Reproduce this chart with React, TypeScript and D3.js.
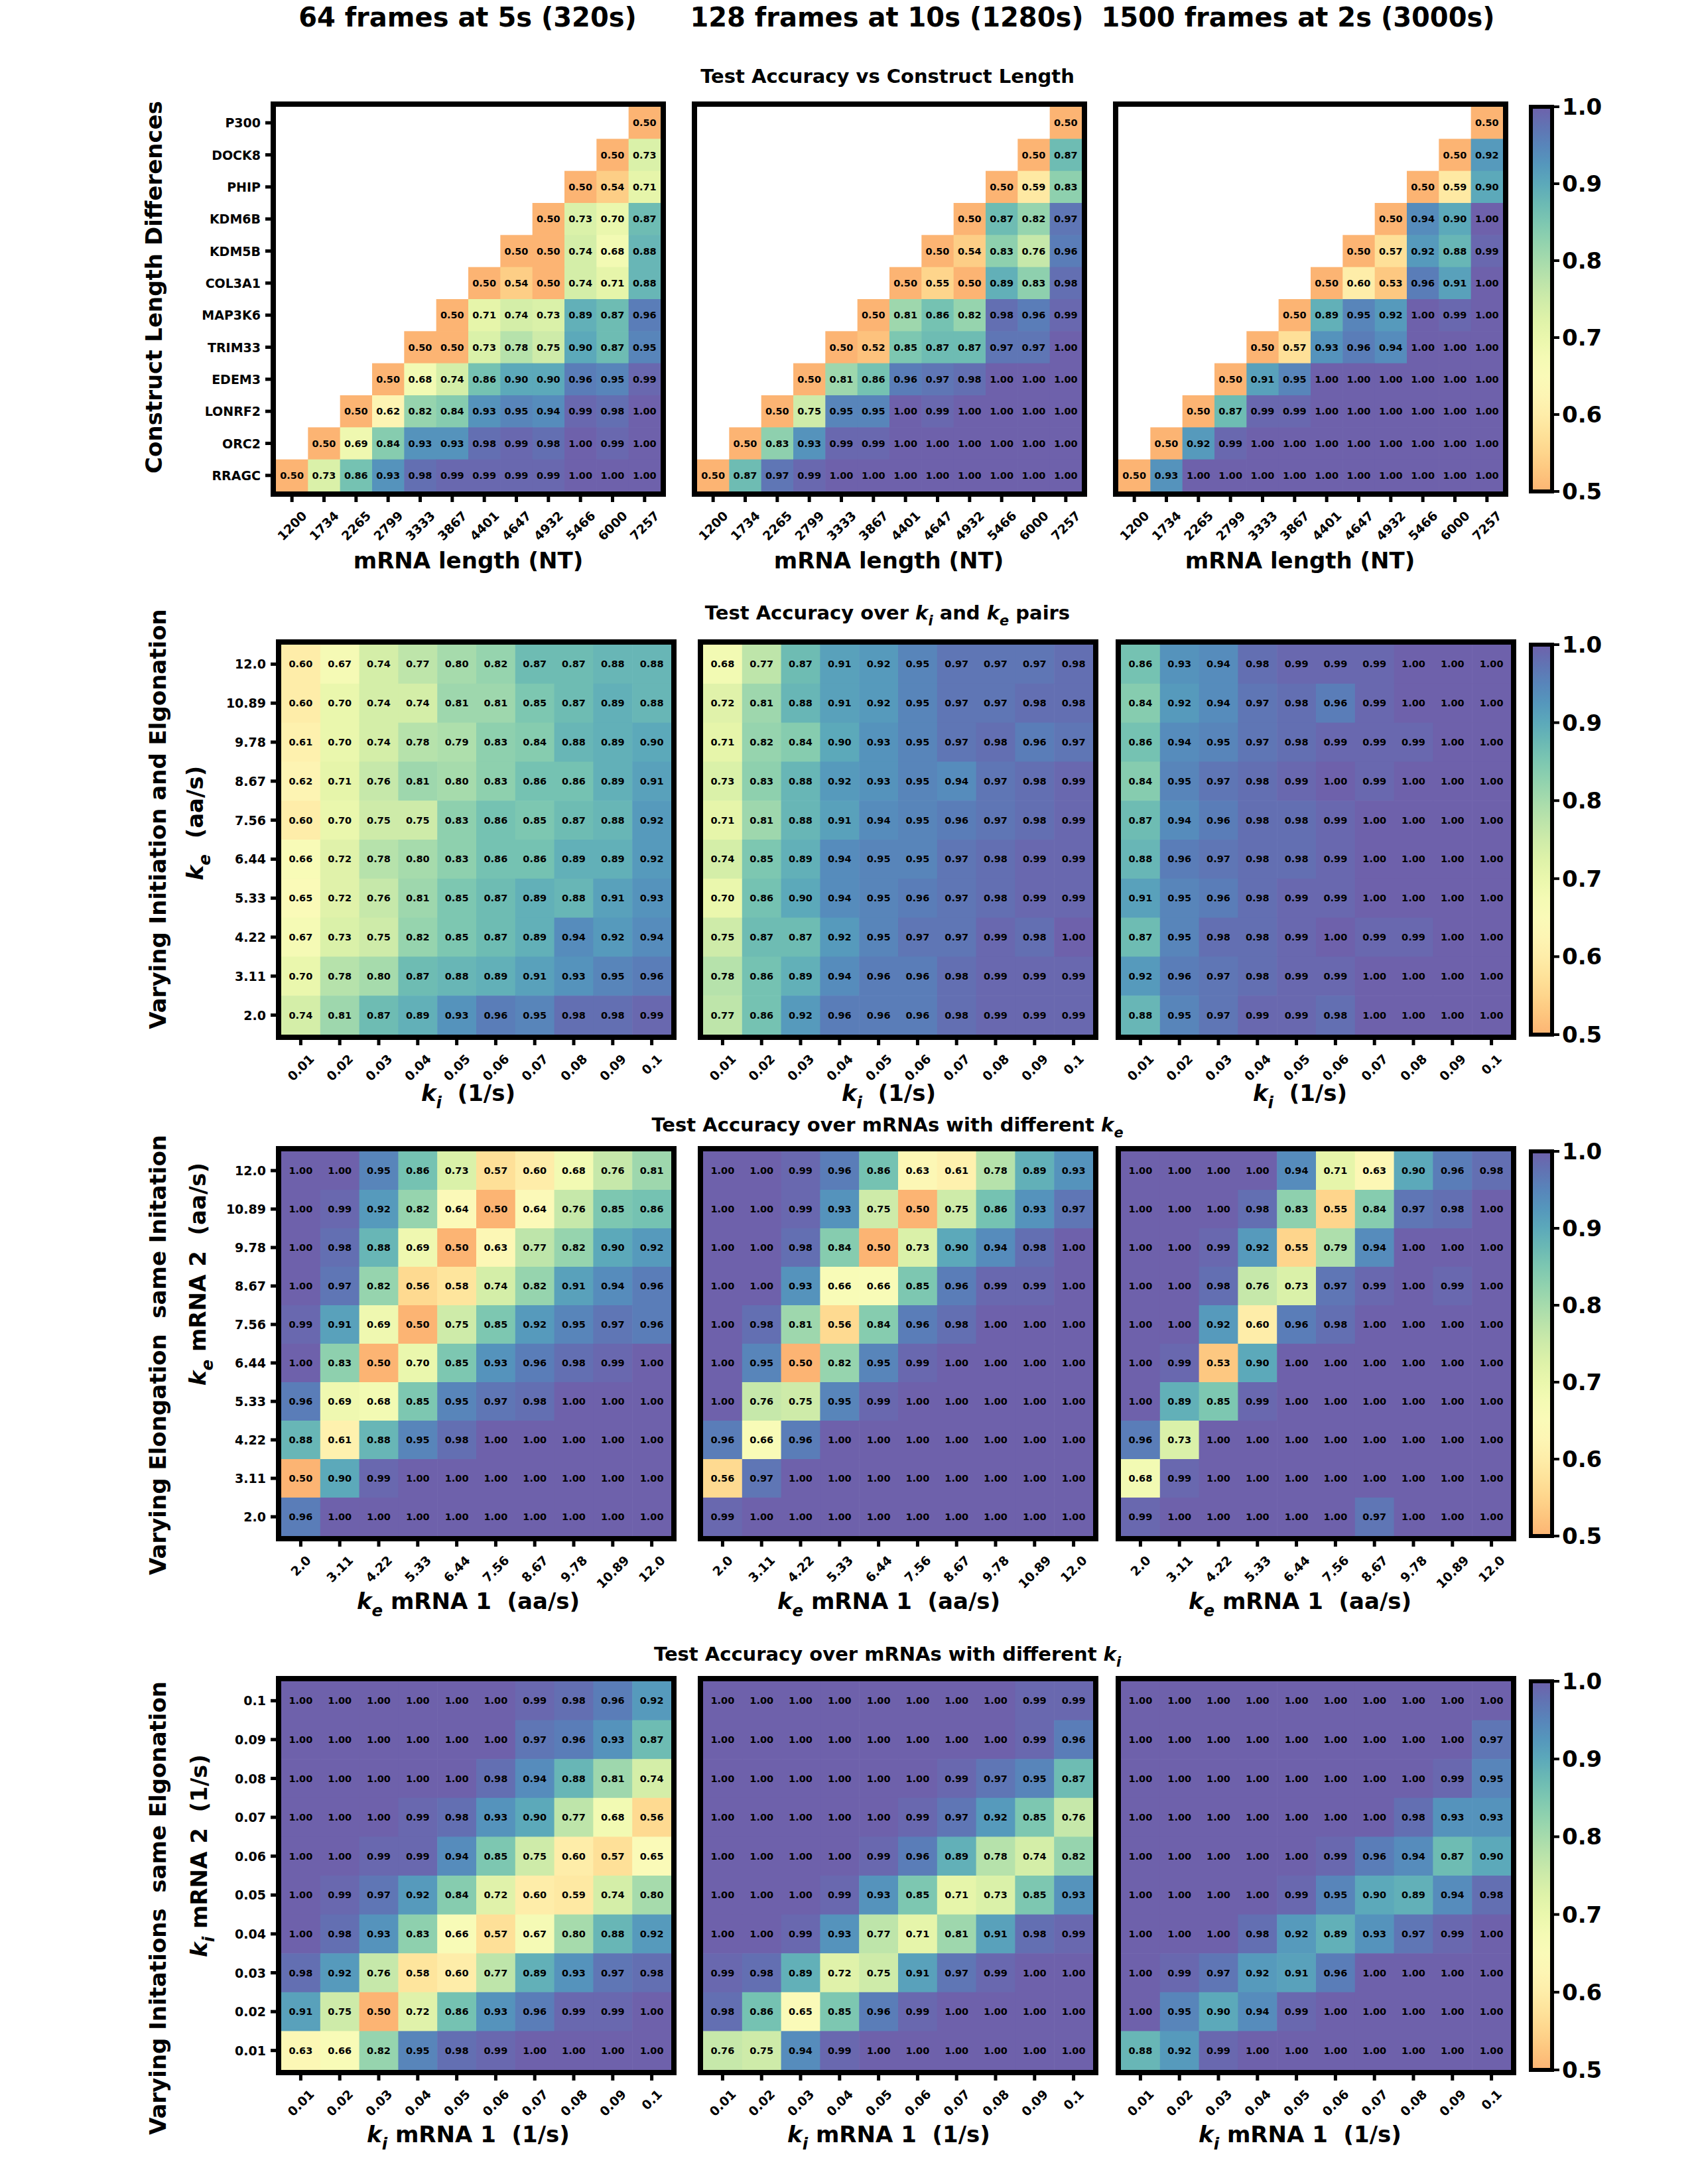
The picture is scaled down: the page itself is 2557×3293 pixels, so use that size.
import React from "react";
import * as d3 from "d3";

// ---------------- DATA ----------------
const FRAME_HEADERS = ["64 frames at 5s (320s)", "128 frames at 10s (1280s)", "1500 frames at 2s (3000s)"];

const GENES = ["P300", "DOCK8", "PHIP", "KDM6B", "KDM5B", "COL3A1", "MAP3K6", "TRIM33", "EDEM3", "LONRF2", "ORC2", "RRAGC"];
const LENGTHS = ["1200", "1734", "2265", "2799", "3333", "3867", "4401", "4647", "4932", "5466", "6000", "7257"];

const KE_Y = ["12.0", "10.89", "9.78", "8.67", "7.56", "6.44", "5.33", "4.22", "3.11", "2.0"];
const KE_X = ["2.0", "3.11", "4.22", "5.33", "6.44", "7.56", "8.67", "9.78", "10.89", "12.0"];
const KI_X = ["0.01", "0.02", "0.03", "0.04", "0.05", "0.06", "0.07", "0.08", "0.09", "0.1"];
const KI_Y = ["0.1", "0.09", "0.08", "0.07", "0.06", "0.05", "0.04", "0.03", "0.02", "0.01"];

const CBAR_TICKS = [0.5, 0.6, 0.7, 0.8, 0.9, 1.0];

// Row 1: triangles, each row listed from the diagonal to the right edge (top row = P300)
const len64 = [
  [0.50],
  [0.50, 0.73],
  [0.50, 0.54, 0.71],
  [0.50, 0.73, 0.70, 0.87],
  [0.50, 0.50, 0.74, 0.68, 0.88],
  [0.50, 0.54, 0.50, 0.74, 0.71, 0.88],
  [0.50, 0.71, 0.74, 0.73, 0.89, 0.87, 0.96],
  [0.50, 0.50, 0.73, 0.78, 0.75, 0.90, 0.87, 0.95],
  [0.50, 0.68, 0.74, 0.86, 0.90, 0.90, 0.96, 0.95, 0.99],
  [0.50, 0.62, 0.82, 0.84, 0.93, 0.95, 0.94, 0.99, 0.98, 1.00],
  [0.50, 0.69, 0.84, 0.93, 0.93, 0.98, 0.99, 0.98, 1.00, 0.99, 1.00],
  [0.50, 0.73, 0.86, 0.93, 0.98, 0.99, 0.99, 0.99, 0.99, 1.00, 1.00, 1.00],
];
const len128 = [
  [0.50],
  [0.50, 0.87],
  [0.50, 0.59, 0.83],
  [0.50, 0.87, 0.82, 0.97],
  [0.50, 0.54, 0.83, 0.76, 0.96],
  [0.50, 0.55, 0.50, 0.89, 0.83, 0.98],
  [0.50, 0.81, 0.86, 0.82, 0.98, 0.96, 0.99],
  [0.50, 0.52, 0.85, 0.87, 0.87, 0.97, 0.97, 1.00],
  [0.50, 0.81, 0.86, 0.96, 0.97, 0.98, 1.00, 1.00, 1.00],
  [0.50, 0.75, 0.95, 0.95, 1.00, 0.99, 1.00, 1.00, 1.00, 1.00],
  [0.50, 0.83, 0.93, 0.99, 0.99, 1.00, 1.00, 1.00, 1.00, 1.00, 1.00],
  [0.50, 0.87, 0.97, 0.99, 1.00, 1.00, 1.00, 1.00, 1.00, 1.00, 1.00, 1.00],
];
const len1500 = [
  [0.50],
  [0.50, 0.92],
  [0.50, 0.59, 0.90],
  [0.50, 0.94, 0.90, 1.00],
  [0.50, 0.57, 0.92, 0.88, 0.99],
  [0.50, 0.60, 0.53, 0.96, 0.91, 1.00],
  [0.50, 0.89, 0.95, 0.92, 1.00, 0.99, 1.00],
  [0.50, 0.57, 0.93, 0.96, 0.94, 1.00, 1.00, 1.00],
  [0.50, 0.91, 0.95, 1.00, 1.00, 1.00, 1.00, 1.00, 1.00],
  [0.50, 0.87, 0.99, 0.99, 1.00, 1.00, 1.00, 1.00, 1.00, 1.00],
  [0.50, 0.92, 0.99, 1.00, 1.00, 1.00, 1.00, 1.00, 1.00, 1.00, 1.00],
  [0.50, 0.93, 1.00, 1.00, 1.00, 1.00, 1.00, 1.00, 1.00, 1.00, 1.00, 1.00],
];

// Row 2: ki (columns) x ke (rows, top = 12.0)
const kike64 = [
  [0.60, 0.67, 0.74, 0.77, 0.80, 0.82, 0.87, 0.87, 0.88, 0.88],
  [0.60, 0.70, 0.74, 0.74, 0.81, 0.81, 0.85, 0.87, 0.89, 0.88],
  [0.61, 0.70, 0.74, 0.78, 0.79, 0.83, 0.84, 0.88, 0.89, 0.90],
  [0.62, 0.71, 0.76, 0.81, 0.80, 0.83, 0.86, 0.86, 0.89, 0.91],
  [0.60, 0.70, 0.75, 0.75, 0.83, 0.86, 0.85, 0.87, 0.88, 0.92],
  [0.66, 0.72, 0.78, 0.80, 0.83, 0.86, 0.86, 0.89, 0.89, 0.92],
  [0.65, 0.72, 0.76, 0.81, 0.85, 0.87, 0.89, 0.88, 0.91, 0.93],
  [0.67, 0.73, 0.75, 0.82, 0.85, 0.87, 0.89, 0.94, 0.92, 0.94],
  [0.70, 0.78, 0.80, 0.87, 0.88, 0.89, 0.91, 0.93, 0.95, 0.96],
  [0.74, 0.81, 0.87, 0.89, 0.93, 0.96, 0.95, 0.98, 0.98, 0.99],
];
const kike128 = [
  [0.68, 0.77, 0.87, 0.91, 0.92, 0.95, 0.97, 0.97, 0.97, 0.98],
  [0.72, 0.81, 0.88, 0.91, 0.92, 0.95, 0.97, 0.97, 0.98, 0.98],
  [0.71, 0.82, 0.84, 0.90, 0.93, 0.95, 0.97, 0.98, 0.96, 0.97],
  [0.73, 0.83, 0.88, 0.92, 0.93, 0.95, 0.94, 0.97, 0.98, 0.99],
  [0.71, 0.81, 0.88, 0.91, 0.94, 0.95, 0.96, 0.97, 0.98, 0.99],
  [0.74, 0.85, 0.89, 0.94, 0.95, 0.95, 0.97, 0.98, 0.99, 0.99],
  [0.70, 0.86, 0.90, 0.94, 0.95, 0.96, 0.97, 0.98, 0.99, 0.99],
  [0.75, 0.87, 0.87, 0.92, 0.95, 0.97, 0.97, 0.99, 0.98, 1.00],
  [0.78, 0.86, 0.89, 0.94, 0.96, 0.96, 0.98, 0.99, 0.99, 0.99],
  [0.77, 0.86, 0.92, 0.96, 0.96, 0.96, 0.98, 0.99, 0.99, 0.99],
];
const kike1500 = [
  [0.86, 0.93, 0.94, 0.98, 0.99, 0.99, 0.99, 1.00, 1.00, 1.00],
  [0.84, 0.92, 0.94, 0.97, 0.98, 0.96, 0.99, 1.00, 1.00, 1.00],
  [0.86, 0.94, 0.95, 0.97, 0.98, 0.99, 0.99, 0.99, 1.00, 1.00],
  [0.84, 0.95, 0.97, 0.98, 0.99, 1.00, 0.99, 1.00, 1.00, 1.00],
  [0.87, 0.94, 0.96, 0.98, 0.98, 0.99, 1.00, 1.00, 1.00, 1.00],
  [0.88, 0.96, 0.97, 0.98, 0.98, 0.99, 1.00, 1.00, 1.00, 1.00],
  [0.91, 0.95, 0.96, 0.98, 0.99, 0.99, 1.00, 1.00, 1.00, 1.00],
  [0.87, 0.95, 0.98, 0.98, 0.99, 1.00, 0.99, 0.99, 1.00, 1.00],
  [0.92, 0.96, 0.97, 0.98, 0.99, 0.99, 1.00, 1.00, 1.00, 1.00],
  [0.88, 0.95, 0.97, 0.99, 0.99, 0.98, 1.00, 1.00, 1.00, 1.00],
];

// Row 3: ke mRNA 1 (columns) x ke mRNA 2 (rows, top = 12.0)
const keke64 = [
  [1.00, 1.00, 0.95, 0.86, 0.73, 0.57, 0.60, 0.68, 0.76, 0.81],
  [1.00, 0.99, 0.92, 0.82, 0.64, 0.50, 0.64, 0.76, 0.85, 0.86],
  [1.00, 0.98, 0.88, 0.69, 0.50, 0.63, 0.77, 0.82, 0.90, 0.92],
  [1.00, 0.97, 0.82, 0.56, 0.58, 0.74, 0.82, 0.91, 0.94, 0.96],
  [0.99, 0.91, 0.69, 0.50, 0.75, 0.85, 0.92, 0.95, 0.97, 0.96],
  [1.00, 0.83, 0.50, 0.70, 0.85, 0.93, 0.96, 0.98, 0.99, 1.00],
  [0.96, 0.69, 0.68, 0.85, 0.95, 0.97, 0.98, 1.00, 1.00, 1.00],
  [0.88, 0.61, 0.88, 0.95, 0.98, 1.00, 1.00, 1.00, 1.00, 1.00],
  [0.50, 0.90, 0.99, 1.00, 1.00, 1.00, 1.00, 1.00, 1.00, 1.00],
  [0.96, 1.00, 1.00, 1.00, 1.00, 1.00, 1.00, 1.00, 1.00, 1.00],
];
const keke128 = [
  [1.00, 1.00, 0.99, 0.96, 0.86, 0.63, 0.61, 0.78, 0.89, 0.93],
  [1.00, 1.00, 0.99, 0.93, 0.75, 0.50, 0.75, 0.86, 0.93, 0.97],
  [1.00, 1.00, 0.98, 0.84, 0.50, 0.73, 0.90, 0.94, 0.98, 1.00],
  [1.00, 1.00, 0.93, 0.66, 0.66, 0.85, 0.96, 0.99, 0.99, 1.00],
  [1.00, 0.98, 0.81, 0.56, 0.84, 0.96, 0.98, 1.00, 1.00, 1.00],
  [1.00, 0.95, 0.50, 0.82, 0.95, 0.99, 1.00, 1.00, 1.00, 1.00],
  [1.00, 0.76, 0.75, 0.95, 0.99, 1.00, 1.00, 1.00, 1.00, 1.00],
  [0.96, 0.66, 0.96, 1.00, 1.00, 1.00, 1.00, 1.00, 1.00, 1.00],
  [0.56, 0.97, 1.00, 1.00, 1.00, 1.00, 1.00, 1.00, 1.00, 1.00],
  [0.99, 1.00, 1.00, 1.00, 1.00, 1.00, 1.00, 1.00, 1.00, 1.00],
];
const keke1500 = [
  [1.00, 1.00, 1.00, 1.00, 0.94, 0.71, 0.63, 0.90, 0.96, 0.98],
  [1.00, 1.00, 1.00, 0.98, 0.83, 0.55, 0.84, 0.97, 0.98, 1.00],
  [1.00, 1.00, 0.99, 0.92, 0.55, 0.79, 0.94, 1.00, 1.00, 1.00],
  [1.00, 1.00, 0.98, 0.76, 0.73, 0.97, 0.99, 1.00, 0.99, 1.00],
  [1.00, 1.00, 0.92, 0.60, 0.96, 0.98, 1.00, 1.00, 1.00, 1.00],
  [1.00, 0.99, 0.53, 0.90, 1.00, 1.00, 1.00, 1.00, 1.00, 1.00],
  [1.00, 0.89, 0.85, 0.99, 1.00, 1.00, 1.00, 1.00, 1.00, 1.00],
  [0.96, 0.73, 1.00, 1.00, 1.00, 1.00, 1.00, 1.00, 1.00, 1.00],
  [0.68, 0.99, 1.00, 1.00, 1.00, 1.00, 1.00, 1.00, 1.00, 1.00],
  [0.99, 1.00, 1.00, 1.00, 1.00, 1.00, 0.97, 1.00, 1.00, 1.00],
];

// Row 4: ki mRNA 1 (columns) x ki mRNA 2 (rows, top = 0.1)
const kiki64 = [
  [1.00, 1.00, 1.00, 1.00, 1.00, 1.00, 0.99, 0.98, 0.96, 0.92],
  [1.00, 1.00, 1.00, 1.00, 1.00, 1.00, 0.97, 0.96, 0.93, 0.87],
  [1.00, 1.00, 1.00, 1.00, 1.00, 0.98, 0.94, 0.88, 0.81, 0.74],
  [1.00, 1.00, 1.00, 0.99, 0.98, 0.93, 0.90, 0.77, 0.68, 0.56],
  [1.00, 1.00, 0.99, 0.99, 0.94, 0.85, 0.75, 0.60, 0.57, 0.65],
  [1.00, 0.99, 0.97, 0.92, 0.84, 0.72, 0.60, 0.59, 0.74, 0.80],
  [1.00, 0.98, 0.93, 0.83, 0.66, 0.57, 0.67, 0.80, 0.88, 0.92],
  [0.98, 0.92, 0.76, 0.58, 0.60, 0.77, 0.89, 0.93, 0.97, 0.98],
  [0.91, 0.75, 0.50, 0.72, 0.86, 0.93, 0.96, 0.99, 0.99, 1.00],
  [0.63, 0.66, 0.82, 0.95, 0.98, 0.99, 1.00, 1.00, 1.00, 1.00],
];
const kiki128 = [
  [1.00, 1.00, 1.00, 1.00, 1.00, 1.00, 1.00, 1.00, 0.99, 0.99],
  [1.00, 1.00, 1.00, 1.00, 1.00, 1.00, 1.00, 1.00, 0.99, 0.96],
  [1.00, 1.00, 1.00, 1.00, 1.00, 1.00, 0.99, 0.97, 0.95, 0.87],
  [1.00, 1.00, 1.00, 1.00, 1.00, 0.99, 0.97, 0.92, 0.85, 0.76],
  [1.00, 1.00, 1.00, 1.00, 0.99, 0.96, 0.89, 0.78, 0.74, 0.82],
  [1.00, 1.00, 1.00, 0.99, 0.93, 0.85, 0.71, 0.73, 0.85, 0.93],
  [1.00, 1.00, 0.99, 0.93, 0.77, 0.71, 0.81, 0.91, 0.98, 0.99],
  [0.99, 0.98, 0.89, 0.72, 0.75, 0.91, 0.97, 0.99, 1.00, 1.00],
  [0.98, 0.86, 0.65, 0.85, 0.96, 0.99, 1.00, 1.00, 1.00, 1.00],
  [0.76, 0.75, 0.94, 0.99, 1.00, 1.00, 1.00, 1.00, 1.00, 1.00],
];
const kiki1500 = [
  [1.00, 1.00, 1.00, 1.00, 1.00, 1.00, 1.00, 1.00, 1.00, 1.00],
  [1.00, 1.00, 1.00, 1.00, 1.00, 1.00, 1.00, 1.00, 1.00, 0.97],
  [1.00, 1.00, 1.00, 1.00, 1.00, 1.00, 1.00, 1.00, 0.99, 0.95],
  [1.00, 1.00, 1.00, 1.00, 1.00, 1.00, 1.00, 0.98, 0.93, 0.93],
  [1.00, 1.00, 1.00, 1.00, 1.00, 0.99, 0.96, 0.94, 0.87, 0.90],
  [1.00, 1.00, 1.00, 1.00, 0.99, 0.95, 0.90, 0.89, 0.94, 0.98],
  [1.00, 1.00, 1.00, 0.98, 0.92, 0.89, 0.93, 0.97, 0.99, 1.00],
  [1.00, 0.99, 0.97, 0.92, 0.91, 0.96, 1.00, 1.00, 1.00, 1.00],
  [1.00, 0.95, 0.90, 0.94, 0.99, 1.00, 1.00, 1.00, 1.00, 1.00],
  [0.88, 0.92, 0.99, 1.00, 1.00, 1.00, 1.00, 1.00, 1.00, 1.00],
];

// ---------------- STYLE / LAYOUT ----------------
const FONT = "'DejaVu Sans', Verdana, sans-serif";
const W = 2557;
const H = 3293;
const FRAME = 8;

const colorT = d3.scaleLinear().domain([0.5, 1]).range([0.3, 1]).clamp(true);
const cellColor = (v: number) => d3.interpolateRgb(d3.interpolateSpectral(colorT(v)), "#ffffff")(0.1);

type Seg = { t: string; it?: boolean; sub?: boolean };
const txt = (s: string): Seg[] => [{ t: s }];

function Rich({ segs }: { segs: Seg[] }) {
  return (
    <>
      {segs.map((s, i) =>
        s.sub ? (
          <tspan key={i} fontStyle="italic" fontSize="72%" baselineShift="sub">{s.t}</tspan>
        ) : (
          <tspan key={i} fontStyle={s.it ? "italic" : "normal"}>{s.t}</tspan>
        )
      )}
    </>
  );
}

const charW = (s: string, fs: number) =>
  s.split("").reduce((a, c) => a + (c === "." ? 0.38 : 0.696), 0) * fs;

type PanelProps = {
  x: number;
  y: number;
  w: number;
  h: number;
  rows: number[][];
  nCols: number;
  xLabels: string[];
  yLabels: string[] | null;
};

function Panel({ x, y, w, h, rows, nCols, xLabels, yLabels }: PanelProps) {
  const nRows = rows.length;
  const xs = d3.scaleBand<number>().domain(d3.range(nCols)).range([x, x + w]);
  const ys = d3.scaleBand<number>().domain(d3.range(nRows)).range([y, y + h]);
  const bw = xs.bandwidth();
  const bh = ys.bandwidth();
  const tickFs = 19;
  const capH = tickFs * 0.73;
  const bottom = y + h + FRAME;
  return (
    <g>
      {rows.map((row, r) => {
        const off = nCols - row.length;
        return row.map((v, i) => {
          const c = i + off;
          return (
            <g key={`${r}-${c}`}>
              <rect x={xs(c)} y={ys(r)} width={bw + 0.6} height={bh + 0.6} fill={cellColor(v)} />
              <text
                x={(xs(c) as number) + bw / 2}
                y={(ys(r) as number) + bh / 2}
                textAnchor="middle"
                dominantBaseline="central"
                fontSize={14.5}
                fontWeight="bold"
                fill="#000"
              >
                {v.toFixed(2)}
              </text>
            </g>
          );
        });
      })}
      <rect
        x={x - FRAME / 2}
        y={y - FRAME / 2}
        width={w + FRAME}
        height={h + FRAME}
        fill="none"
        stroke="#000"
        strokeWidth={FRAME}
      />
      {yLabels &&
        yLabels.map((lab, r) => {
          const cy = (ys(r) as number) + bh / 2;
          return (
            <g key={`yl${r}`}>
              <line x1={x - FRAME} x2={x - FRAME - 8} y1={cy} y2={cy} stroke="#000" strokeWidth={5} />
              <text
                x={x - FRAME - 15}
                y={cy}
                textAnchor="end"
                dominantBaseline="central"
                fontSize={tickFs}
                fontWeight="bold"
              >
                {lab}
              </text>
            </g>
          );
        })}
      {xLabels.map((lab, c) => {
        const cx = (xs(c) as number) + bw / 2;
        const lw = charW(lab, tickFs);
        const px = cx + 0.354 * (lw + capH);
        const py = bottom + 20 + 0.707 * capH;
        return (
          <g key={`xl${c}`}>
            <line x1={cx} x2={cx} y1={bottom} y2={bottom + 8} stroke="#000" strokeWidth={5} />
            <text
              x={px}
              y={py}
              textAnchor="end"
              fontSize={tickFs}
              fontWeight="bold"
              transform={`rotate(-45, ${px}, ${py})`}
            >
              {lab}
            </text>
          </g>
        );
      })}
    </g>
  );
}

function Colorbar({ y, h, id }: { y: number; h: number; id: string }) {
  const x = 2308;
  const w = 32;
  const sc = d3.scaleLinear().domain([0.5, 1]).range([y + h, y]);
  const stops = d3.range(0, 1.0001, 0.05);
  return (
    <g>
      <defs>
        <linearGradient id={id} x1="0" y1="1" x2="0" y2="0">
          {stops.map((s) => (
            <stop key={s} offset={`${s * 100}%`} stopColor={cellColor(0.5 + s * 0.5)} />
          ))}
        </linearGradient>
      </defs>
      <rect x={x} y={y} width={w} height={h} fill={`url(#${id})`} />
      <rect x={x} y={y} width={w} height={h} fill="none" stroke="#000" strokeWidth={6} />
      {CBAR_TICKS.map((t) => (
        <g key={t}>
          <line x1={x + w + 3} x2={x + w + 11} y1={sc(t)} y2={sc(t)} stroke="#000" strokeWidth={4} />
          <text x={x + w + 15} y={sc(t)} dominantBaseline="central" fontSize={34} fontWeight="bold">
            {t.toFixed(1)}
          </text>
        </g>
      ))}
    </g>
  );
}

const ROW1_X = [416, 1051, 1686];
const ROW_X = [424, 1060, 1690];
const PANEL_W = [580, 588, 588, 588];
const ROW_Y = [161, 972, 1736, 2535];
const ROW_H = [580, 588, 580, 586];
const PANEL_CX = [706, 1340, 1960];

const ROW_TITLES: Seg[][] = [
  txt("Test Accuracy vs Construct Length"),
  [{ t: "Test Accuracy over " }, { t: "k", it: true }, { t: "i", sub: true }, { t: " and " }, { t: "k", it: true }, { t: "e", sub: true }, { t: " pairs" }],
  [{ t: "Test Accuracy over mRNAs with different " }, { t: "k", it: true }, { t: "e", sub: true }],
  [{ t: "Test Accuracy over mRNAs with different " }, { t: "k", it: true }, { t: "i", sub: true }],
];
const ROW_TITLE_Y = [115, 924, 1696, 2494];

const X_TITLES: Seg[][] = [
  txt("mRNA length (NT)"),
  [{ t: "k", it: true }, { t: "i", sub: true }, { t: "  (1/s)" }],
  [{ t: "k", it: true }, { t: "e", sub: true }, { t: " mRNA 1  (aa/s)" }],
  [{ t: "k", it: true }, { t: "i", sub: true }, { t: " mRNA 1  (1/s)" }],
];
const X_TITLE_Y = [845, 1648, 2414, 3218];

const Y_TITLES: { segs: Seg[]; x: number; y: number }[] = [
  { segs: txt("Construct Length Differences"), x: 232, y: 433 },
  { segs: txt("Varying Initiation and Elgonation"), x: 238, y: 1235 },
  { segs: [{ t: "k", it: true }, { t: "e", sub: true }, { t: "  (aa/s)" }], x: 294, y: 1241 },
  { segs: txt("Varying Elongation  same Initation"), x: 238, y: 2043 },
  { segs: [{ t: "k", it: true }, { t: "e", sub: true }, { t: " mRNA 2  (aa/s)" }], x: 298, y: 1921 },
  { segs: txt("Varying Initations  same Elgonation"), x: 238, y: 2877 },
  { segs: [{ t: "k", it: true }, { t: "i", sub: true }, { t: " mRNA 2  (1/s)" }], x: 300, y: 2798 },
];

const HEADER_X = [705, 1337, 1957];

export default function App() {
  const rowData = [
    [len64, len128, len1500],
    [kike64, kike128, kike1500],
    [keke64, keke128, keke1500],
    [kiki64, kiki128, kiki1500],
  ];
  const rowXLabels = [LENGTHS, KI_X, KE_X, KI_X];
  const rowYLabels = [GENES, KE_Y, KE_Y, KI_Y];
  return (
    <div style={{ position: "absolute", left: 0, top: 0 }}>
      <svg
        width={W}
        height={H}
        viewBox={`0 0 ${W} ${H}`}
        style={{ display: "block", fontFamily: FONT }}
      >
        <rect x={0} y={0} width={W} height={H} fill="#fff" />
        {FRAME_HEADERS.map((t, i) => (
          <text key={t} x={HEADER_X[i]} y={26} textAnchor="middle" dominantBaseline="central" fontSize={40} fontWeight="bold">
            {t}
          </text>
        ))}
        {ROW_TITLES.map((segs, i) => (
          <text key={`rt${i}`} x={1338} y={ROW_TITLE_Y[i]} textAnchor="middle" dominantBaseline="central" fontSize={29} fontWeight="bold" xmlSpace="preserve">
            <Rich segs={segs} />
          </text>
        ))}
        {rowData.map((panels, ri) =>
          panels.map((rows, pi) => (
            <Panel
              key={`p${ri}-${pi}`}
              x={ri === 0 ? ROW1_X[pi] : ROW_X[pi]}
              y={ROW_Y[ri]}
              w={PANEL_W[ri]}
              h={ROW_H[ri]}
              rows={rows}
              nCols={rowXLabels[ri].length}
              xLabels={rowXLabels[ri]}
              yLabels={pi === 0 ? rowYLabels[ri] : null}
            />
          ))
        )}
        {ROW_Y.map((y, i) => (
          <Colorbar key={`cb${i}`} id={`cbg${i}`} y={y} h={ROW_H[i]} />
        ))}
        {X_TITLES.map((segs, ri) =>
          PANEL_CX.map((cx, pi) => (
            <text key={`xt${ri}-${pi}`} x={cx} y={X_TITLE_Y[ri]} textAnchor="middle" dominantBaseline="central" fontSize={34} fontWeight="bold" xmlSpace="preserve">
              <Rich segs={segs} />
            </text>
          ))
        )}
        {Y_TITLES.map((yt, i) => (
          <text
            key={`yt${i}`}
            x={yt.x}
            y={yt.y}
            textAnchor="middle"
            dominantBaseline="central"
            fontSize={34}
            fontWeight="bold"
            xmlSpace="preserve"
            transform={`rotate(-90, ${yt.x}, ${yt.y})`}
          >
            <Rich segs={yt.segs} />
          </text>
        ))}
      </svg>
    </div>
  );
}
